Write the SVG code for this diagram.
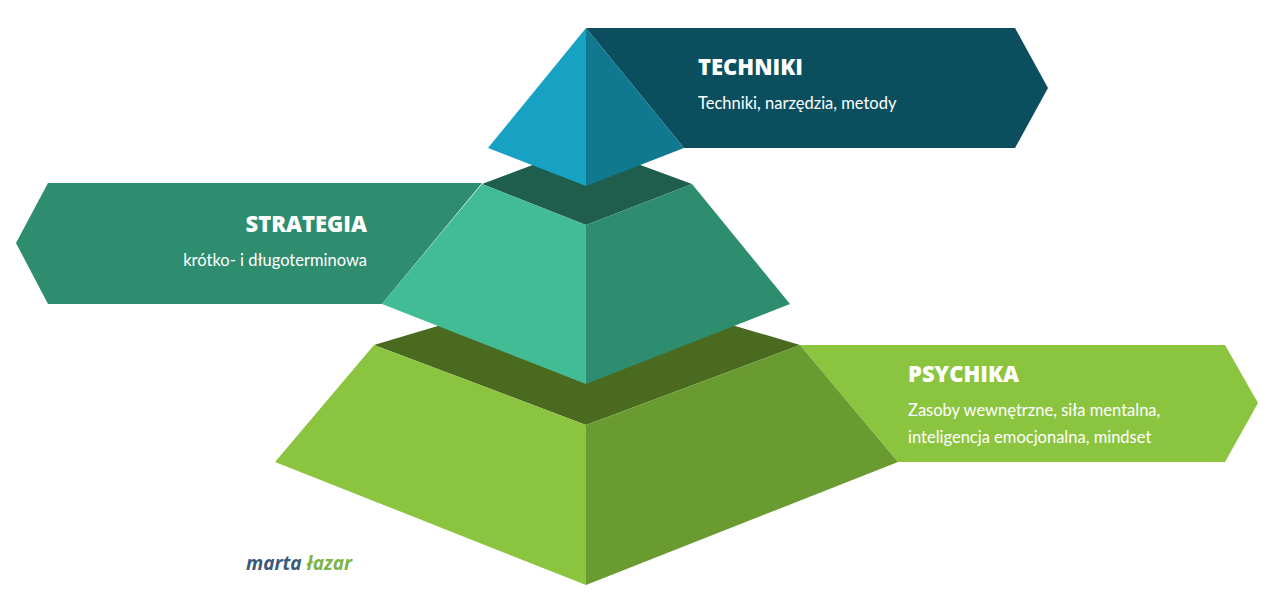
<svg xmlns="http://www.w3.org/2000/svg" width="1280" height="605" viewBox="0 0 1280 605">
<style>
.h{font-family:"Open Sans","Liberation Sans",sans-serif;font-weight:800;font-size:22px;fill:#fff}
.t{font-family:Lato,"Liberation Sans",sans-serif;font-size:16.5px;fill:#fff}
</style>
<rect width="1280" height="605" fill="#fff"/>
<g id="psychika">
<polygon points="800,345 1225,345 1258,403 1225,462 898,462" fill="#8bc540"/>
<polygon points="374,345 586,282 800,345 586,425" fill="#4a6a1f"/>
<polygon points="374,345 586,425 586,585 275,462" fill="#8bc540"/>
<polygon points="586,425 800,345 898,462 586,585" fill="#6a9b30"/>
<text class="h" x="908" y="382">PSYCHIKA</text>
<text class="t" x="908" y="416">Zasoby wewnętrzne, siła mentalna,</text>
<text class="t" x="908" y="443">inteligencja emocjonalna, mindset</text>
</g>
<g id="strategia">
<polygon points="16,243 48,183 482,183 382,304 48,304" fill="#2e8c6f"/>
<polygon points="482,184 586,145 692,184 586,225" fill="#1f5e4c"/>
<polygon points="482,184 586,225 586,384 382,304" fill="#42bc94"/>
<polygon points="586,225 692,184 790,304 586,384" fill="#2e8c6f"/>
<text class="h" x="367" y="232" text-anchor="end">STRATEGIA</text>
<text class="t" x="367" y="266" text-anchor="end">krótko- i długoterminowa</text>
</g>
<g id="techniki">
<polygon points="586,28 1015,28 1048,88 1015,148 684,148" fill="#0b4f5f"/>
<polygon points="586,28 586,186 488,148" fill="#17a2c4"/>
<polygon points="586,28 684,148 586,186" fill="#10788f"/>
<text class="h" x="698" y="75">TECHNIKI</text>
<text class="t" x="698" y="109">Techniki, narzędzia, metody</text>
</g>
<g id="logo">
<text x="246" y="570" font-family="'Open Sans','Liberation Sans',sans-serif" font-weight="700" font-style="italic" font-size="19"><tspan fill="#3a5a7a">marta</tspan> <tspan fill="#7cb342">łazar</tspan></text>
</g>
<g id="connectors"/>
</svg>
